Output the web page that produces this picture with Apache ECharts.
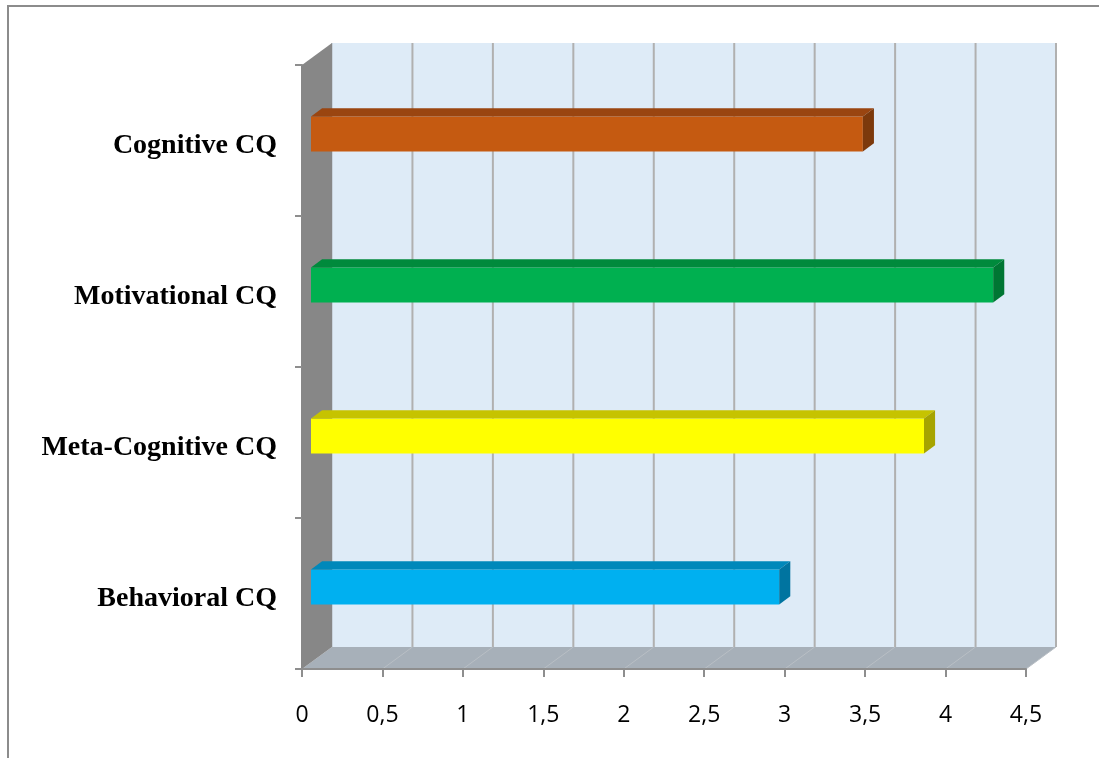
<!DOCTYPE html>
<html>
<head>
<meta charset="utf-8">
<script src="https://cdn.jsdelivr.net/npm/echarts@6/dist/echarts.min.js"></script>
<style>html,body{margin:0;padding:0;background:#fff}#c{width:1099px;height:758px}</style>
</head>
<body>
<div id="c"></div>
<script>
// ---- data ----
const categories = ['Behavioral CQ', 'Meta-Cognitive CQ', 'Motivational CQ', 'Cognitive CQ'];
const values = [2.91, 3.81, 4.24, 3.43];
const tickValues = [0, 0.5, 1, 1.5, 2, 2.5, 3, 3.5, 4, 4.5];
const tickLabels = ['0', '0,5', '1', '1,5', '2', '2,5', '3', '3,5', '4', '4,5'];
const frontColors = ['#00B0F0', '#FFFF00', '#00B050', '#C55A11'];
const topColors = ['#0088BA', '#C6C300', '#008A3C', '#9A4510'];
const sideColors = ['#0074A0', '#A6A400', '#007633', '#7C390C'];

// ---- 3D geometry ----
const DX = 30, DY = -22;       // depth offset of the back wall
const F1 = 0.3, F2 = 0.67;     // bar front / back depth fractions
const BAR_FRAC = 0.232;        // bar thickness as fraction of band

const chart = echarts.init(document.getElementById('c'));

function wallsRender(params, api) {
  const cs = params.coordSys;
  const x0 = cs.x, x1 = cs.x + cs.width, y0 = cs.y, y1 = cs.y + cs.height;
  const children = [];
  children.push({type: 'rect', shape: {x: x0 + DX, y: y0 + DY, width: cs.width, height: cs.height},
    style: {fill: '#DEEBF7'}});
  children.push({type: 'polygon', shape: {points: [[x0, y1], [x0 + DX, y1 + DY], [x1 + DX, y1 + DY], [x1, y1]]},
    style: {fill: '#A7B0B9'}});
  tickValues.forEach(function (t) {
    const x = api.coord([t, 0])[0];
    children.push({type: 'line', shape: {x1: x + DX, y1: y0 + DY, x2: x + DX, y2: y1 + DY},
      style: {stroke: t === 0 ? '#C9D3DD' : '#B0B0B0', lineWidth: 2}});
    if (t > 0) {
      children.push({type: 'line', shape: {x1: x + DX, y1: y1 + DY, x2: x, y2: y1},
        style: {stroke: '#B9BFC5', lineWidth: 1}});
    }
  });
  children.push({type: 'polygon', shape: {points: [[x0, y0], [x0 + DX, y0 + DY], [x0 + DX, y1 + DY], [x0, y1]]},
    style: {fill: '#878787'}});
  return {type: 'group', children: children};
}

function barRender(params, api) {
  const idx = api.value(1);
  const v = api.value(0);
  const p0 = api.coord([0, idx]);
  const p1 = api.coord([v, idx]);
  const h = api.size([0, 1])[1] * BAR_FRAC;
  const fx0 = p0[0] + F1 * DX, fx1 = p1[0] + F1 * DX;
  const cy = p0[1] + F1 * DY;
  const top = cy - h / 2, bot = cy + h / 2;
  const ddx = (F2 - F1) * DX, ddy = (F2 - F1) * DY;
  return {type: 'group', children: [
    {type: 'rect', shape: {x: fx0, y: top, width: fx1 - fx0, height: h}, style: {fill: frontColors[idx]}},
    {type: 'polygon', shape: {points: [[fx0, top], [fx0 + ddx, top + ddy], [fx1 + ddx, top + ddy], [fx1, top]]},
      style: {fill: topColors[idx]}},
    {type: 'polygon', shape: {points: [[fx1, top], [fx1 + ddx, top + ddy], [fx1 + ddx, bot + ddy], [fx1, bot]]},
      style: {fill: sideColors[idx]}}
  ]};
}

chart.setOption({
  backgroundColor: '#ffffff',
  animation: false,
  graphic: [{type: 'rect', shape: {x: 8, y: 6, width: 1200, height: 900},
    style: {fill: 'none', stroke: '#8C8C8C', lineWidth: 2}, z: -1}],
  grid: {left: 302, right: 73, top: 65, bottom: 89, containLabel: false},
  xAxis: {
    type: 'value', min: 0, max: 4.5, interval: 0.5, z: 10,
    axisLine: {show: true, lineStyle: {color: '#8E8E8E', width: 2}},
    axisTick: {show: true, length: 8, lineStyle: {color: '#8E8E8E', width: 2}},
    splitLine: {show: false},
    axisLabel: {
      margin: 35, color: '#000', fontFamily: 'Open Sans', fontSize: 23,
      formatter: function (v) { const i = tickValues.indexOf(v); return i >= 0 ? tickLabels[i] : String(v); }
    }
  },
  yAxis: {
    type: 'category', data: categories, z: 10,
    axisLine: {show: true, lineStyle: {color: '#878787', width: 2}},
    axisTick: {show: true, length: 7, lineStyle: {color: '#8E8E8E', width: 2}},
    axisLabel: {margin: 25, color: '#000',
      formatter: function (v) { return '{a|' + v + '}'; },
      rich: {a: {fontFamily: 'Liberation Serif', fontWeight: 'bold', fontSize: 28, color: '#000',
        padding: [10, 0, 0, 0]}}}
  },
  series: [
    {type: 'custom', name: 'walls', z: 1, silent: true, data: [[0, 0]], renderItem: wallsRender,
      encode: {x: 0, y: 1}},
    {type: 'custom', name: 'bars', z: 3, data: values.map(function (v, i) { return [v, i]; }),
      renderItem: barRender, encode: {x: 0, y: 1}}
  ]
});
</script>
</body>
</html>
